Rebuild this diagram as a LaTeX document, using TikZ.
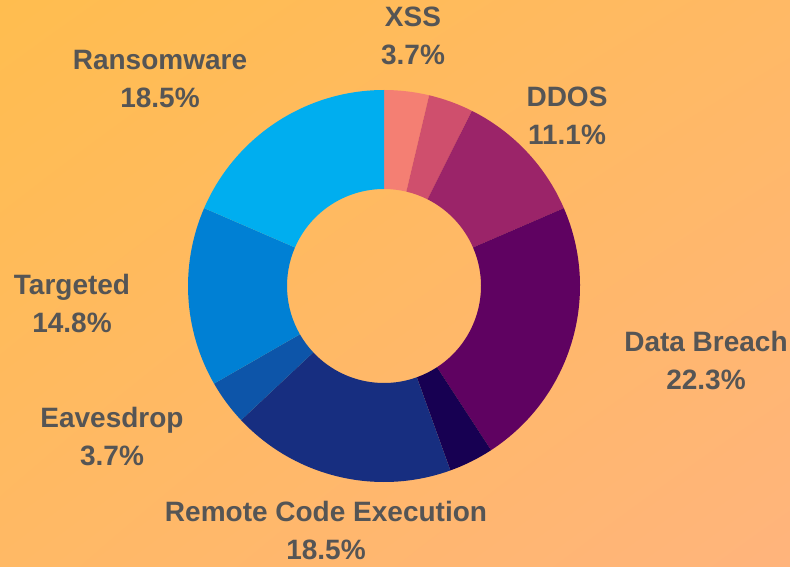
\documentclass[tikz,border=0pt]{standalone}
\usepackage{fontspec}
\setmainfont{Liberation Sans}
\usetikzlibrary{positioning,shadings}

\definecolor{bgtl}{HTML}{FFBD4F}
\definecolor{bgbr}{HTML}{FFB47C}
\definecolor{bgmid}{HTML}{FFB965}
\definecolor{labelgray}{HTML}{555555}
\definecolor{xsscol}{HTML}{F47F73}
\definecolor{pinkcol}{HTML}{CF4F6D}
\definecolor{ddoscol}{HTML}{9B2469}
\definecolor{breachcol}{HTML}{5F0261}
\definecolor{darkcol}{HTML}{170052}
\definecolor{rcecol}{HTML}{172E80}
\definecolor{eavecol}{HTML}{0D55A9}
\definecolor{targcol}{HTML}{0080D4}
\definecolor{ransomcol}{HTML}{00AEEF}

\begin{document}
\begin{tikzpicture}[x=1pt, y=1pt,
    lbl/.style={text=labelgray, align=center, font=\bfseries\fontsize{28}{38}\selectfont}]

    % background
    \shade[upper left=bgtl, lower right=bgbr, upper right=bgmid, lower left=bgmid]
        (0,0) rectangle (790,566);
    \useasboundingbox (0,0) rectangle (790,566);

    % donut
    \begin{scope}[shift={(384,280)}]
        \foreach \a/\b/\c in {90/76.68/xsscol, 76.68/63.36/pinkcol, 63.36/23.4/ddoscol,
                              23.4/-56.88/breachcol, -56.88/-70.2/darkcol, -70.2/-136.8/rcecol,
                              -136.8/-150.12/eavecol, -150.12/-203.4/targcol, -203.4/-270/ransomcol}
            \fill[\c] (\a:196) arc (\a:\b:196) -- (\b:97) arc (\b:\a:97) -- cycle;
    \end{scope}

    % labels
    \node[lbl] (xss)    at (413,530) {XSS\\3.7\%};
    \node[lbl] (ddos)   at (567,450) {DDOS\\11.1\%};
    \node[lbl] (breach) at (706,205) {Data Breach\\22.3\%};
    \node[lbl] (rce)    at (326,36)  {Remote Code Execution\\18.5\%};
    \node[lbl] (eave)   at (112,129) {Eavesdrop\\3.7\%};
    \node[lbl] (targ)   at (72,263)  {Targeted\\14.8\%};
    \node[lbl] (ransom) at (160,487) {Ransomware\\18.5\%};
\end{tikzpicture}
\end{document}
